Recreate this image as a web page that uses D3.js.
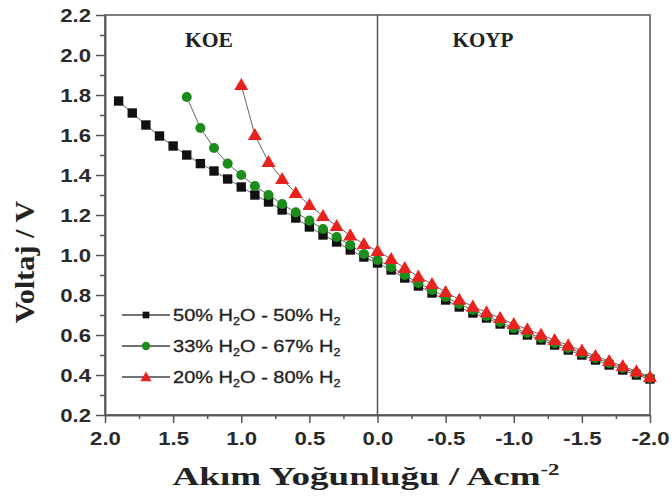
<!DOCTYPE html>
<html>
<head>
<meta charset="utf-8">
<script src="https://cdn.jsdelivr.net/npm/d3@7"></script>
<style>
    body { margin: 0; background: #fff; }
    svg { display: block; }
</style>
</head>
<body>
<div id="chart"></div>
<script>
// current density (A/cm2), shared x values for all series
const current = [1.9, 1.8, 1.7, 1.6, 1.5, 1.4, 1.3, 1.2, 1.1, 1.0,
    0.9, 0.8, 0.7, 0.6, 0.5, 0.4, 0.3, 0.2, 0.1, 0.0,
    -0.1, -0.2, -0.3, -0.4, -0.5, -0.6, -0.7, -0.8, -0.9, -1.0,
    -1.1, -1.2, -1.3, -1.4, -1.5, -1.6, -1.7, -1.8, -1.9, -2.0];

const volt50 = [1.77, 1.71, 1.65, 1.595, 1.545, 1.50, 1.457, 1.42, 1.38, 1.34,
    1.30, 1.265, 1.225, 1.185, 1.14, 1.10, 1.065, 1.025, 0.99, 0.96,
    0.925, 0.885, 0.845, 0.81, 0.775, 0.74, 0.71, 0.685, 0.655, 0.625,
    0.60, 0.575, 0.55, 0.525, 0.50, 0.475, 0.45, 0.425, 0.40, 0.38];

const volt33 = [null, null, null, null, null, 1.79, 1.635, 1.535, 1.457, 1.40,
    1.345, 1.30, 1.255, 1.213, 1.172, 1.13, 1.09, 1.05, 1.005, 0.975,
    0.94, 0.90, 0.86, 0.825, 0.79, 0.755, 0.725, 0.695, 0.665, 0.635,
    0.61, 0.585, 0.56, 0.535, 0.51, 0.485, 0.46, 0.435, 0.41, 0.385];

const volt20 = [null, null, null, null, null, null, null, null, null, 1.85,
    1.60, 1.465, 1.38, 1.31, 1.25, 1.195, 1.145, 1.098, 1.055, 1.02,
    0.98, 0.935, 0.892, 0.855, 0.815, 0.776, 0.742, 0.713, 0.685, 0.655,
    0.628, 0.602, 0.575, 0.548, 0.522, 0.495, 0.47, 0.444, 0.418, 0.39];

const seriesNames = [["50% H", "2", "O - 50% H", "2"],
    ["33% H", "2", "O - 67% H", "2"],
    ["20% H", "2", "O - 80% H", "2"]];
const seriesColors = ["#111111", "#1c8c1c", "#e8231e"];
const seriesSymbols = [d3.symbolSquare, d3.symbolCircle, d3.symbolTriangle];

const xTicks = [2.0, 1.5, 1.0, 0.5, 0.0, -0.5, -1.0, -1.5, -2.0];
const xMinor = [1.75, 1.25, 0.75, 0.25, -0.25, -0.75, -1.25, -1.75];
const yTicks = [0.2, 0.4, 0.6, 0.8, 1.0, 1.2, 1.4, 1.6, 1.8, 2.0, 2.2];
const yMinor = [0.3, 0.5, 0.7, 0.9, 1.1, 1.3, 1.5, 1.7, 1.9, 2.1];

let W = 672, H = 500;
let margin = {top: 15, right: 22, bottom: 85, left: 105};
let axisColor = "#555";
let sans = "'Liberation Sans', Arial, sans-serif";
let serif = "'Liberation Serif', 'Times New Roman', serif";

let svg = d3.select("#chart").append("svg")
    .attr("width", W)
    .attr("height", H);

let x = d3.scaleLinear().domain([2.0, -2.0]).range([margin.left, W - margin.right]);
let y = d3.scaleLinear().domain([0.2, 2.2]).range([H - margin.bottom, margin.top]);

let fitWidth = function(sel, target) {
    let w = sel.node().getBBox().width;
    return target / w;
};

// frame
svg.append("rect")
    .attr("x", x(2.0))
    .attr("y", y(2.2))
    .attr("width", x(-2.0) - x(2.0))
    .attr("height", y(0.2) - y(2.2))
    .attr("fill", "none")
    .attr("stroke", axisColor)
    .attr("stroke-width", 1.5);

svg.append("line")
    .attr("x1", x(0)).attr("x2", x(0))
    .attr("y1", y(2.2)).attr("y2", y(0.2))
    .attr("stroke", axisColor)
    .attr("stroke-width", 1.5);

// axes
let fmt = d => (Math.abs(d) < 1e-9 ? 0 : d).toFixed(1);

let yAxis = svg.append("g")
    .attr("transform", `translate(${margin.left},0)`)
    .call(d3.axisLeft(y).tickValues(yTicks).tickFormat(fmt).tickSize(9).tickSizeOuter(0));
svg.append("g")
    .attr("transform", `translate(${margin.left},0)`)
    .call(d3.axisLeft(y).tickValues(yMinor).tickFormat("").tickSize(5).tickSizeOuter(0));

let xAxis = svg.append("g")
    .attr("transform", `translate(0,${H - margin.bottom})`)
    .call(d3.axisBottom(x).tickValues(xTicks).tickFormat(fmt).tickSize(8).tickSizeOuter(0));
svg.append("g")
    .attr("transform", `translate(0,${H - margin.bottom})`)
    .call(d3.axisBottom(x).tickValues(xMinor).tickFormat("").tickSize(4).tickSizeOuter(0));

svg.selectAll(".domain").attr("stroke", axisColor).attr("stroke-width", 1.5);
svg.selectAll(".tick line").attr("stroke", axisColor).attr("stroke-width", 1.5);

let tickSx = 1.2;
yAxis.selectAll("text")
    .attr("font-family", sans)
    .attr("font-weight", "bold")
    .attr("font-size", 18.5)
    .attr("fill", "#2a2a2a")
    .attr("x", -14 / tickSx)
    .attr("dy", "0.34em")
    .attr("transform", `scale(${tickSx},1)`);

xAxis.selectAll("text")
    .attr("font-family", sans)
    .attr("font-weight", "bold")
    .attr("font-size", 18.5)
    .attr("fill", "#2a2a2a")
    .attr("y", 17)
    .attr("dy", "0.71em")
    .attr("transform", `scale(${tickSx},1)`);

// series
let allSeries = [volt50, volt33, volt20];
let markSize = [88, 80, 85];
let line = d3.line()
    .defined(d => d[1] !== null)
    .x(d => x(d[0]))
    .y(d => y(d[1]));

allSeries.forEach(function(vals, i) {
    let pts = current.map((c, j) => [c, vals[j]]);
    svg.append("path")
        .datum(pts)
        .attr("d", line)
        .attr("fill", "none")
        .attr("stroke", "#666")
        .attr("stroke-width", 1);
});

allSeries.forEach(function(vals, i) {
    let pts = current.map((c, j) => [c, vals[j]]).filter(d => d[1] !== null);
    svg.append("g").selectAll("path")
        .data(pts)
        .enter().append("path")
        .attr("transform", d => `translate(${x(d[0])},${y(d[1]) + (i === 2 ? 1 : 0)})`)
        .attr("d", d3.symbol().type(seriesSymbols[i]).size(markSize[i]))
        .attr("fill", seriesColors[i]);
});

// region labels
[["KOE", 209, 48], ["KOYP", 483, 61]].forEach(function(r) {
    let t = svg.append("text")
        .attr("font-family", serif)
        .attr("font-weight", "bold")
        .attr("font-size", 20)
        .attr("fill", "#222")
        .attr("text-anchor", "middle")
        .text(r[0]);
    let sx = fitWidth(t, r[2]);
    t.attr("transform", `translate(${r[1]},46.5) scale(${sx},1)`);
});

// legend
let legendY = [315, 346, 377];
seriesNames.forEach(function(name, i) {
    let g = svg.append("g").attr("transform", `translate(0,${legendY[i]})`);
    g.append("line")
        .attr("x1", 122).attr("x2", 170)
        .attr("y1", 0).attr("y2", 0)
        .attr("stroke", "#444")
        .attr("stroke-width", 1.5);
    g.append("path")
        .attr("transform", `translate(146,${i === 2 ? 1 : 0})`)
        .attr("d", d3.symbol().type(seriesSymbols[i]).size(i === 0 ? 45 : 55))
        .attr("fill", seriesColors[i]);
    let t = g.append("text")
        .attr("font-family", sans)
        .attr("font-size", 16)
        .attr("fill", "#222")
        .attr("stroke", "#222")
        .attr("stroke-width", 0.3)
        .attr("y", 6);
    t.append("tspan").text(name[0]);
    t.append("tspan").attr("font-size", 10).attr("dy", 4).text(name[1]);
    t.append("tspan").attr("dy", -4).text(name[2]);
    t.append("tspan").attr("font-size", 10).attr("dy", 4).text(name[3]);
    let sx = fitWidth(t, 168);
    t.attr("transform", `translate(173,0) scale(${sx},1)`);
});

// axis titles
let xt = svg.append("text")
    .attr("font-family", serif)
    .attr("font-weight", "bold")
    .attr("font-size", 26)
    .attr("fill", "#222")
    .attr("text-anchor", "middle");
xt.append("tspan").text("Akım Yoğunluğu / Acm");
xt.append("tspan").attr("font-size", 16).attr("dy", -10).text("-2");
let xsx = fitWidth(xt, 387);
xt.attr("transform", `translate(366,485) scale(${xsx},1)`);

let yt = svg.append("text")
    .attr("font-family", serif)
    .attr("font-weight", "bold")
    .attr("font-size", 27)
    .attr("fill", "#222")
    .attr("text-anchor", "middle")
    .text("Voltaj / V");
let ysx = fitWidth(yt, 123);
yt.attr("transform", `translate(34,262) rotate(-90) scale(${ysx},1)`);
</script>
</body>
</html>
